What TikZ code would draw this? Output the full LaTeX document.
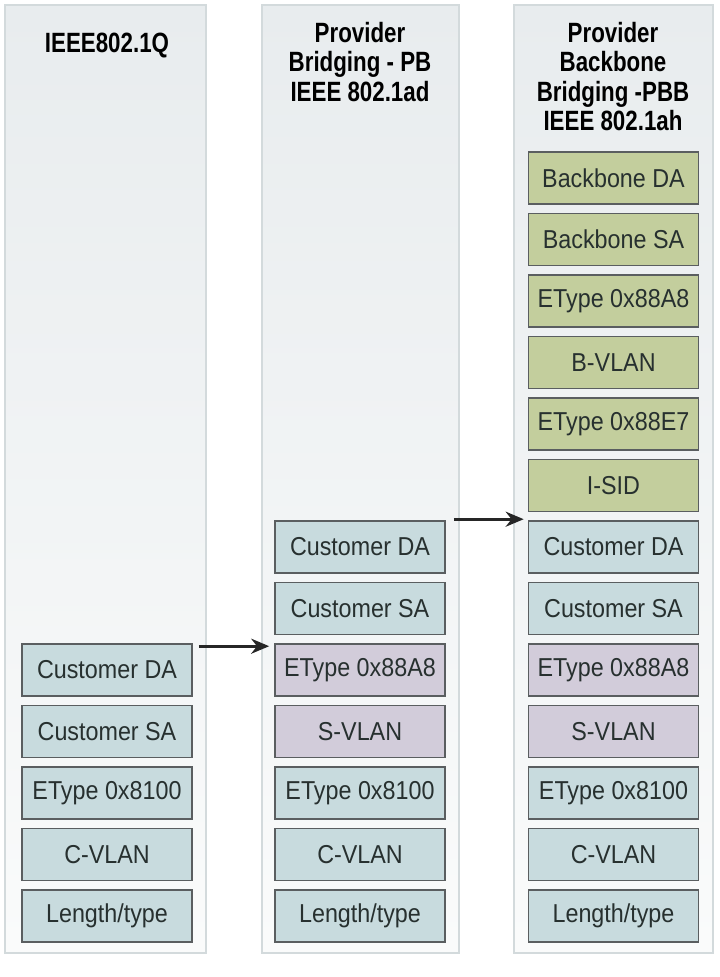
\documentclass[tikz,border=0pt]{standalone}
\usepackage{fontspec}
\usetikzlibrary{arrows.meta,calc}
\newfontfamily\boxfont[FakeStretch=0.9]{Liberation Sans}
\newfontfamily\headfont[FakeStretch=0.8]{Liberation Sans}
\definecolor{panelfill}{HTML}{E8ECEE}
\definecolor{panelbot}{HTML}{FAFBFB}
\definecolor{paneldraw}{HTML}{D3DADC}
\definecolor{custblue}{HTML}{C8DBDE}
\definecolor{provpurple}{HTML}{D2CCDA}
\definecolor{bbgreen}{HTML}{C3CE9D}
\definecolor{boxline}{HTML}{5A5E60}
\definecolor{boxtext}{HTML}{27302F}
\tikzset{
  panel/.style={draw=paneldraw, line width=2.5bp, top color=panelfill, bottom color=panelbot},
  field/.style={draw=boxline, line width=1.6bp, minimum width=170bp, minimum height=52bp, inner sep=0pt,
    text=boxtext, font=\boxfont\fontsize{26}{28}\selectfont},
  cust/.style={field, fill=custblue},
  prov/.style={field, fill=provpurple},
  bb/.style={field, fill=bbgreen},
  header/.style={anchor=north, inner sep=0pt, align=center, text=black,
    font=\headfont\bfseries\fontsize{28}{29.5}\selectfont},
  insarrow/.style={line width=3bp, -{Stealth[length=18bp,width=15bp]}, black!85}
}
\begin{document}
\begin{tikzpicture}[x=1bp,y=-1bp]
\useasboundingbox (0,0) rectangle (720,977);
% panels
\draw[panel] (5,5) rectangle (206,953);
\draw[panel] (262,5) rectangle (459,953);
\draw[panel] (514,5) rectangle (713,953);
% headers
\node[header] (h1) at (107,33) {IEEE802.1Q};
\node[header] (h2) at (360,22) {Provider\\Bridging - PB\\IEEE 802.1ad};
\node[header] (h3) at (613,22) {Provider\\Backbone\\Bridging -PBB\\IEEE 802.1ah};
% column 1
\node[cust] (a1) at (107,670) {Customer DA};
\node[cust] (a2) at (107,731.5) {Customer SA};
\node[cust] (a3) at (107,793) {EType 0x8100};
\node[cust] (a4) at (107,854.5) {C-VLAN};
\node[cust] (a5) at (107,916) {Length/type};
% column 2
\node[cust] (b1) at (360,547) {Customer DA};
\node[cust] (b2) at (360,608.5) {Customer SA};
\node[prov] (b3) at (360,670) {EType 0x88A8};
\node[prov] (b4) at (360,731.5) {S-VLAN};
\node[cust] (b5) at (360,793) {EType 0x8100};
\node[cust] (b6) at (360,854.5) {C-VLAN};
\node[cust] (b7) at (360,916) {Length/type};
% column 3
\node[bb] (c1) at (613.5,178) {Backbone DA};
\node[bb] (c2) at (613.5,239.5) {Backbone SA};
\node[bb] (c3) at (613.5,301) {EType 0x88A8};
\node[bb] (c4) at (613.5,362.5) {B-VLAN};
\node[bb] (c5) at (613.5,424) {EType 0x88E7};
\node[bb] (c6) at (613.5,485.5) {I-SID};
\node[cust] (c7) at (613.5,547) {Customer DA};
\node[cust] (c8) at (613.5,608.5) {Customer SA};
\node[prov] (c9) at (613.5,670) {EType 0x88A8};
\node[prov] (c10) at (613.5,731.5) {S-VLAN};
\node[cust] (c11) at (613.5,793) {EType 0x8100};
\node[cust] (c12) at (613.5,854.5) {C-VLAN};
\node[cust] (c13) at (613.5,916) {Length/type};
% arrows
\coordinate (s1) at ($(a1.north east)+(6,3)$);
\coordinate (t1) at ($(b3.north west)+(-5,3)$);
\coordinate (s2) at ($(b1.north east)+(8,-1)$);
\coordinate (t2) at ($(c7.north west)+(-4,-1)$);
\draw[insarrow] (s1) -- (t1);
\draw[insarrow] (s2) -- (t2);
\end{tikzpicture}
\end{document}
